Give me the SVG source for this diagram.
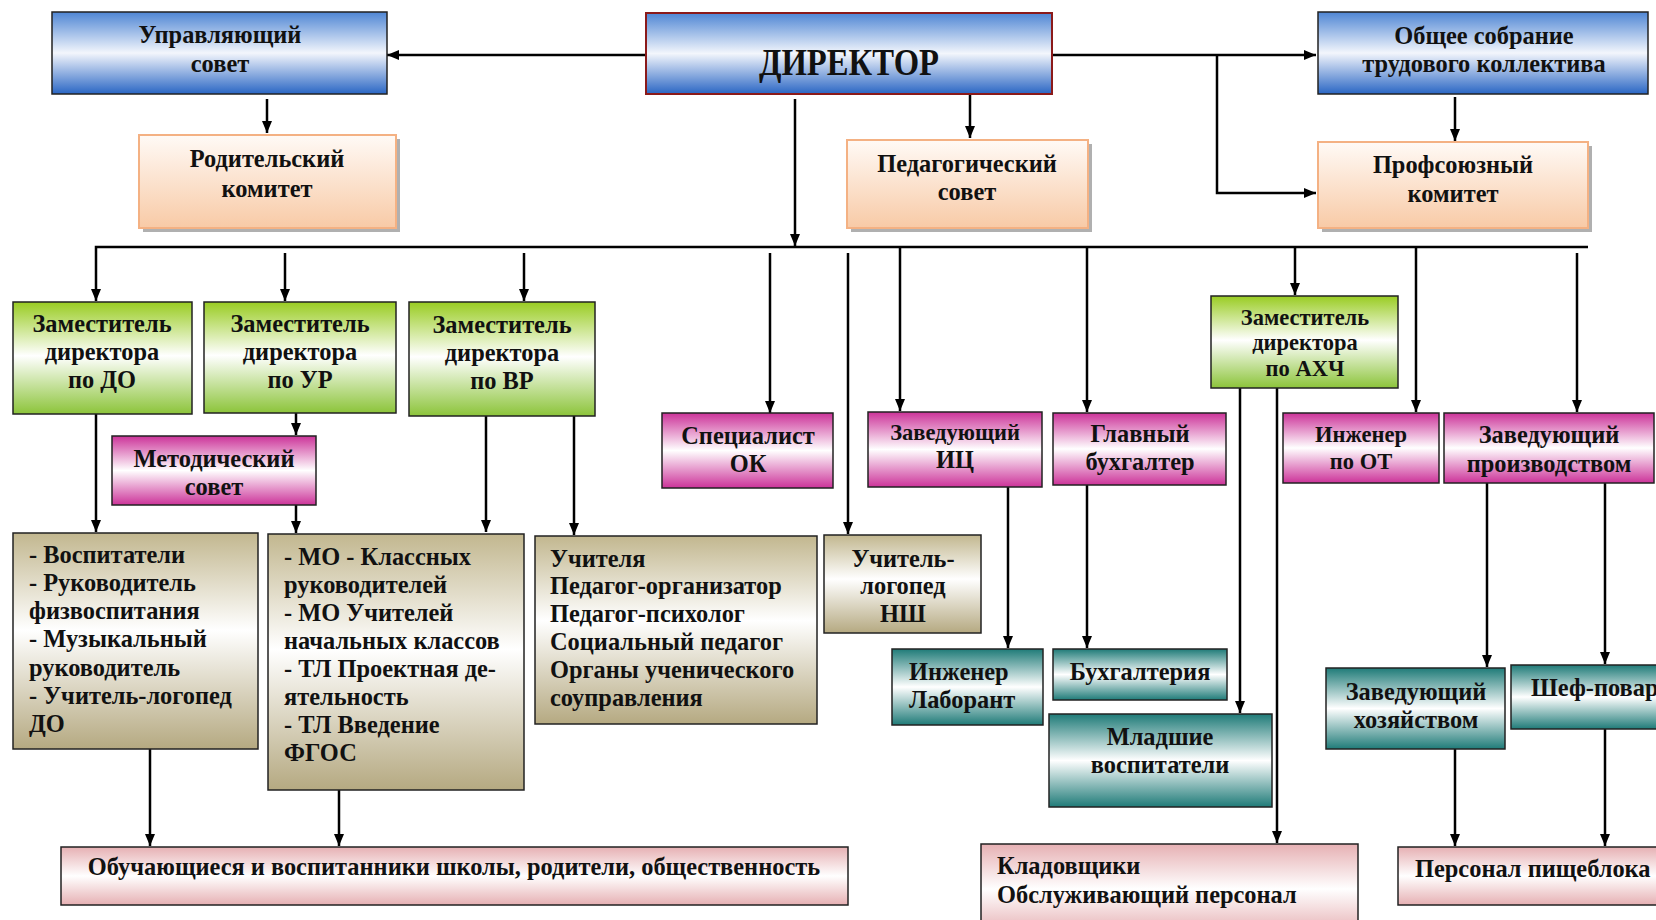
<svg xmlns="http://www.w3.org/2000/svg" width="1656" height="920" viewBox="0 0 1656 920">
<defs>
<linearGradient id="gBlue" x1="0" y1="0" x2="0" y2="1"><stop offset="0" stop-color="#4f86d4"/><stop offset="0.5" stop-color="#f3f6fc"/><stop offset="1" stop-color="#2a66c4"/></linearGradient>
<linearGradient id="gPeach" x1="0" y1="0" x2="0" y2="1"><stop offset="0" stop-color="#fffaf6"/><stop offset="1" stop-color="#f8caa6"/></linearGradient>
<linearGradient id="gGreen" x1="0" y1="0" x2="0" y2="1"><stop offset="0" stop-color="#99cc22"/><stop offset="0.48" stop-color="#ffffff"/><stop offset="1" stop-color="#8cc43a"/></linearGradient>
<linearGradient id="gMag" x1="0" y1="0" x2="0" y2="1"><stop offset="0" stop-color="#cc3399"/><stop offset="0.5" stop-color="#ffffff"/><stop offset="1" stop-color="#cc3399"/></linearGradient>
<linearGradient id="gTan" x1="0" y1="0" x2="0" y2="1"><stop offset="0" stop-color="#c2b78f"/><stop offset="0.45" stop-color="#ffffff"/><stop offset="1" stop-color="#b5a981"/></linearGradient>
<linearGradient id="gTeal" x1="0" y1="0" x2="0" y2="1"><stop offset="0" stop-color="#1f7b78"/><stop offset="0.5" stop-color="#ffffff"/><stop offset="1" stop-color="#1f7b78"/></linearGradient>
<linearGradient id="gPink" x1="0" y1="0" x2="0" y2="1"><stop offset="0" stop-color="#e6b0b3"/><stop offset="0.5" stop-color="#ffffff"/><stop offset="1" stop-color="#e6b0b3"/></linearGradient>
<marker id="arr" viewBox="0 0 12 10" refX="12" refY="5" markerWidth="12" markerHeight="10" markerUnits="userSpaceOnUse" orient="auto"><path d="M0,0 L12,5 L0,10 z" fill="#000"/></marker>
</defs>
<style>
text{font-family:"Liberation Serif","Times New Roman",serif;font-weight:bold;font-size:24.4px;fill:#111}
.c{text-anchor:middle}
.s{font-size:22.5px}
.box{stroke:#222;stroke-width:1.5}
.blue{fill:url(#gBlue)}
.peach{fill:url(#gPeach);stroke:#f4b183;stroke-width:2}
.shadow{fill:#b0b0b0}
.green{fill:url(#gGreen)}
.mag{fill:url(#gMag)}
.tan{fill:url(#gTan)}
.teal{fill:url(#gTeal)}
.pink{fill:url(#gPink)}
.ln{fill:none;stroke:#000;stroke-width:2.5}
.ln.a{marker-end:url(#arr)}
</style>
<rect width="1656" height="920" fill="#fff"/>

<g id="connectors">
<path class="ln a" d="M646,55 H387"/>
<path class="ln a" d="M1052,55 H1316"/>
<path class="ln a" d="M1217,55 V193 H1316"/>
<path class="ln a" d="M267,99 V133"/>
<path class="ln a" d="M970,94 V138"/>
<path class="ln a" d="M1455,97 V141"/>
<path class="ln a" d="M795,99 V246"/>
<path class="ln a" d="M1588,247 H96 V301"/>
<path class="ln a" d="M285,253 V301"/>
<path class="ln a" d="M524,253 V301"/>
<path class="ln a" d="M770,253 V413"/>
<path class="ln a" d="M848,253 V534"/>
<path class="ln a" d="M900,247 V411"/>
<path class="ln a" d="M1087,247 V412"/>
<path class="ln a" d="M1295,247 V295"/>
<path class="ln a" d="M1416,247 V412"/>
<path class="ln a" d="M1577,253 V412"/>
<path class="ln a" d="M96,414 V532"/>
<path class="ln a" d="M296,413 V435"/>
<path class="ln a" d="M296,505 V533"/>
<path class="ln a" d="M486,416 V532"/>
<path class="ln a" d="M574,416 V535"/>
<path class="ln a" d="M1008,487 V648"/>
<path class="ln a" d="M1087,485 V648"/>
<path class="ln a" d="M1240,388 V713"/>
<path class="ln a" d="M1277,386 V843"/>
<path class="ln a" d="M1487,483 V667"/>
<path class="ln a" d="M1605,483 V664"/>
<path class="ln a" d="M150,749 V846"/>
<path class="ln a" d="M339,790 V846"/>
<path class="ln a" d="M1455,749 V846"/>
<path class="ln a" d="M1605,729 V846"/>
</g>

<g id="upravl"><rect class="box blue" x="52" y="12" width="335" height="82" stroke="#333"/><text class="c" x="220" y="43">Управляющий</text><text class="c" x="220" y="72">совет</text></g>
<g id="director"><rect class="blue" x="646" y="13" width="406" height="81" stroke="#8b1a1a" stroke-width="2"/><text class="c" x="849" y="75" textLength="180" lengthAdjust="spacingAndGlyphs" style="font-size:38px">ДИРЕКТОР</text></g>
<g id="obshee"><rect class="box blue" x="1318" y="12" width="330" height="82"/><text class="c" x="1484" y="44">Общее собрание</text><text class="c" x="1484" y="72">трудового коллектива</text></g>

<g id="roditel"><rect class="shadow" x="143" y="139" width="257" height="93"/><rect class="peach" x="139" y="135" width="257" height="93"/><text class="c" x="267" y="167">Родительский</text><text class="c" x="267" y="197">комитет</text></g>
<g id="pedsovet"><rect class="shadow" x="851" y="144" width="241" height="88"/><rect class="peach" x="847" y="140" width="241" height="88"/><text class="c" x="967" y="172">Педагогический</text><text class="c" x="967" y="200">совет</text></g>
<g id="profsoyuz"><rect class="shadow" x="1322" y="146" width="270" height="86"/><rect class="peach" x="1318" y="142" width="270" height="86"/><text class="c" x="1453" y="173">Профсоюзный</text><text class="c" x="1453" y="202">комитет</text></g>

<g id="zam-do"><rect class="box green" x="13" y="302" width="179" height="112"/><text class="c" x="102" y="332">Заместитель</text><text class="c" x="102" y="360">директора</text><text class="c" x="102" y="388">по ДО</text></g>
<g id="zam-ur"><rect class="box green" x="204" y="302" width="192" height="111"/><text class="c" x="300" y="332">Заместитель</text><text class="c" x="300" y="360">директора</text><text class="c" x="300" y="388">по УР</text></g>
<g id="zam-vr"><rect class="box green" x="409" y="302" width="186" height="114"/><text class="c" x="502" y="333">Заместитель</text><text class="c" x="502" y="361">директора</text><text class="c" x="502" y="389">по ВР</text></g>
<g id="zam-ahch"><rect class="box green" x="1211" y="296" width="187" height="92"/><text class="c s" x="1305" y="325">Заместитель</text><text class="c s" x="1305" y="350">директора</text><text class="c s" x="1305" y="376">по АХЧ</text></g>

<g id="metod"><rect class="box mag" x="112" y="436" width="204" height="69"/><text class="c" x="214" y="467">Методический</text><text class="c" x="214" y="495">совет</text></g>
<g id="spec-ok"><rect class="box mag" x="662" y="413" width="171" height="75"/><text class="c" x="748" y="444">Специалист</text><text class="c" x="748" y="472">ОК</text></g>
<g id="zav-ic"><rect class="box mag" x="868" y="412" width="174" height="75"/><text class="c s" x="955" y="440">Заведующий</text><text class="c" x="955" y="468">ИЦ</text></g>
<g id="glav-buh"><rect class="box mag" x="1053" y="413" width="173" height="72"/><text class="c" x="1140" y="442">Главный</text><text class="c" x="1140" y="470">бухгалтер</text></g>
<g id="ing-ot"><rect class="box mag" x="1283" y="413" width="156" height="70"/><text class="c s" x="1361" y="442">Инженер</text><text class="c s" x="1361" y="469">по ОТ</text></g>
<g id="zav-proizv"><rect class="box mag" x="1444" y="413" width="210" height="70"/><text class="c" x="1549" y="443">Заведующий</text><text class="c" x="1549" y="472">производством</text></g>

<g id="list-do"><rect class="box tan" x="13" y="533" width="245" height="216"/>
<text x="29" y="563">- Воспитатели</text><text x="29" y="591">- Руководитель</text><text x="29" y="619">физвоспитания</text><text x="29" y="647">- Музыкальный</text><text x="29" y="676">руководитель</text><text x="29" y="704">- Учитель-логопед</text><text x="29" y="732">ДО</text></g>
<g id="list-ur"><rect class="box tan" x="268" y="534" width="256" height="256"/>
<text x="284" y="565">- МО - Классных</text><text x="284" y="593">руководителей</text><text x="284" y="621">- МО Учителей</text><text x="284" y="649">начальных классов</text><text x="284" y="677">- ТЛ Проектная де-</text><text x="284" y="705">ятельность</text><text x="284" y="733">- ТЛ Введение</text><text x="284" y="761">ФГОС</text></g>
<g id="list-vr"><rect class="box tan" x="535" y="536" width="282" height="188"/>
<text x="550" y="567">Учителя</text><text x="550" y="594">Педагог-организатор</text><text x="550" y="622">Педагог-психолог</text><text x="550" y="650">Социальный педагог</text><text x="550" y="678">Органы ученического</text><text x="550" y="706">соуправления</text></g>
<g id="logoped"><rect class="box tan" x="824" y="535" width="157" height="98"/><text class="c" x="903" y="567">Учитель-</text><text class="c" x="903" y="594">логопед</text><text class="c" x="903" y="622">НШ</text></g>

<g id="ing-lab"><rect class="box teal" x="892" y="649" width="151" height="76"/><text x="909" y="680">Инженер</text><text x="909" y="708">Лаборант</text></g>
<g id="buhgalteria"><rect class="box teal" x="1053" y="649" width="174" height="51"/><text class="c" x="1140" y="680">Бухгалтерия</text></g>
<g id="mladshie"><rect class="box teal" x="1049" y="714" width="223" height="93"/><text class="c" x="1160" y="745">Младшие</text><text class="c" x="1160" y="773">воспитатели</text></g>
<g id="zav-hoz"><rect class="box teal" x="1326" y="668" width="179" height="81"/><text class="c" x="1416" y="700">Заведующий</text><text class="c" x="1416" y="728">хозяйством</text></g>
<g id="shef"><rect class="box teal" x="1511" y="665" width="160" height="64"/><text x="1531" y="696">Шеф-повар</text></g>

<g id="obuch"><rect class="box pink" x="61" y="847" width="787" height="58"/><text class="c" x="454" y="875">Обучающиеся и воспитанники школы, родители, общественность</text></g>
<g id="kladov"><rect class="box pink" x="981" y="844" width="377" height="90"/><text x="997" y="874">Кладовщики</text><text x="997" y="903">Обслуживающий персонал</text></g>
<g id="personal"><rect class="box pink" x="1398" y="847" width="270" height="58"/><text x="1415" y="877">Персонал пищеблока</text></g>
</svg>
